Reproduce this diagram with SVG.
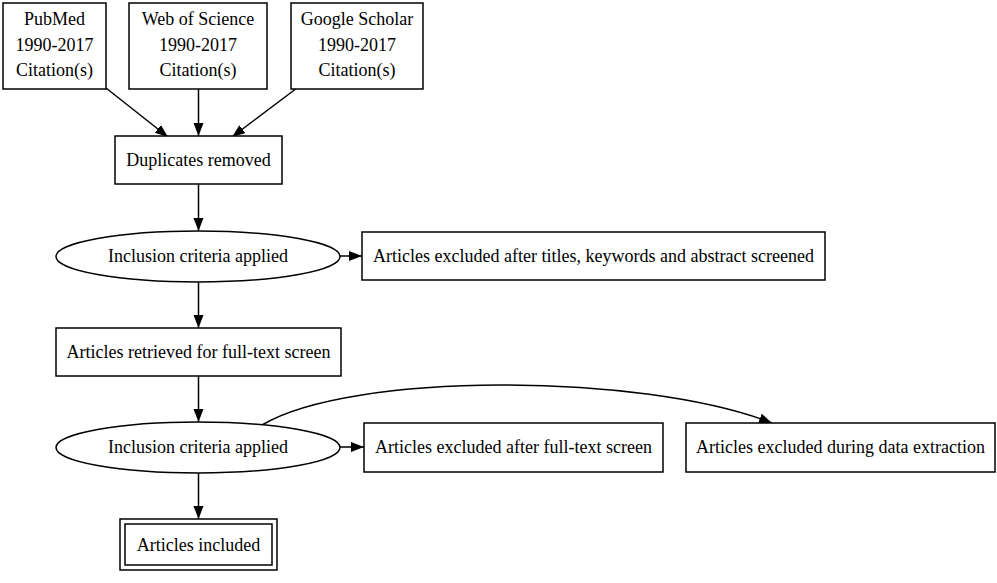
<svg xmlns="http://www.w3.org/2000/svg" width="997" height="583" viewBox="0 0 997 583">
<defs>
<style>
.n{fill:#fff;stroke:#000;stroke-width:1.5}
.t{font-family:"Liberation Serif","Times New Roman",serif;font-size:18px;fill:#000;text-anchor:middle}
.e{fill:none;stroke:#000;stroke-width:1.5}
</style>
<marker id="ah" markerUnits="userSpaceOnUse" markerWidth="14" markerHeight="11" refX="13" refY="5" orient="auto">
<path d="M0,0 L13,5 L0,10 Z" fill="#000"/>
</marker>
</defs>
<rect width="997" height="583" fill="#fff"/>
<g id="connectors">
<path class="e" d="M106,88 L168,137" marker-end="url(#ah)"/>
<path class="e" d="M198.5,89 L198.5,136" marker-end="url(#ah)"/>
<path class="e" d="M297,88 L232,137" marker-end="url(#ah)"/>
<path class="e" d="M198.5,184 L198.5,231" marker-end="url(#ah)"/>
<path class="e" d="M340,256 L362,256" marker-end="url(#ah)"/>
<path class="e" d="M198.5,282 L198.5,328" marker-end="url(#ah)"/>
<path class="e" d="M198.5,376 L198.5,422" marker-end="url(#ah)"/>
<path class="e" d="M340,447 L364,447" marker-end="url(#ah)"/>
<path class="e" d="M198.5,473 L198.5,519" marker-end="url(#ah)"/>
<path class="e" d="M262,425 C350,372 640,372 772,423" marker-end="url(#ah)"/>
</g>
<g id="pubmed">
<rect class="n" x="3" y="3" width="103" height="86"/>
<text class="t" x="54.5" y="25">PubMed</text>
<text class="t" x="54.5" y="50.5">1990-2017</text>
<text class="t" x="54.5" y="76">Citation(s)</text>
</g>
<g id="wos">
<rect class="n" x="129" y="3" width="138" height="86"/>
<text class="t" x="198" y="25">Web of Science</text>
<text class="t" x="198" y="50.5">1990-2017</text>
<text class="t" x="198" y="76">Citation(s)</text>
</g>
<g id="scholar">
<rect class="n" x="291" y="3" width="132" height="86"/>
<text class="t" x="357" y="25">Google Scholar</text>
<text class="t" x="357" y="50.5">1990-2017</text>
<text class="t" x="357" y="76">Citation(s)</text>
</g>
<g id="duplicates">
<rect class="n" x="115" y="136" width="167" height="48"/>
<text class="t" x="198.5" y="166">Duplicates removed</text>
</g>
<g id="inclusion1">
<ellipse class="n" cx="198" cy="256.5" rx="142" ry="25.5"/>
<text class="t" x="198" y="262">Inclusion criteria applied</text>
</g>
<g id="excluded1">
<rect class="n" x="362" y="232" width="463" height="48"/>
<text class="t" x="593.5" y="262">Articles excluded after titles, keywords and abstract screened</text>
</g>
<g id="retrieved">
<rect class="n" x="56" y="328" width="285" height="48"/>
<text class="t" x="198.5" y="358">Articles retrieved for full-text screen</text>
</g>
<g id="inclusion2">
<ellipse class="n" cx="198" cy="447.5" rx="142" ry="25.5"/>
<text class="t" x="198" y="453">Inclusion criteria applied</text>
</g>
<g id="excluded2">
<rect class="n" x="364" y="423" width="299" height="49"/>
<text class="t" x="513.5" y="453">Articles excluded after full-text screen</text>
</g>
<g id="excluded3">
<rect class="n" x="686" y="423" width="309" height="49"/>
<text class="t" x="840.5" y="453">Articles excluded during data extraction</text>
</g>
<g id="included">
<rect class="n" x="120" y="519" width="157" height="51"/>
<rect class="n" x="125" y="524" width="147" height="41"/>
<text class="t" x="198.5" y="550.5">Articles included</text>
</g>
</svg>
